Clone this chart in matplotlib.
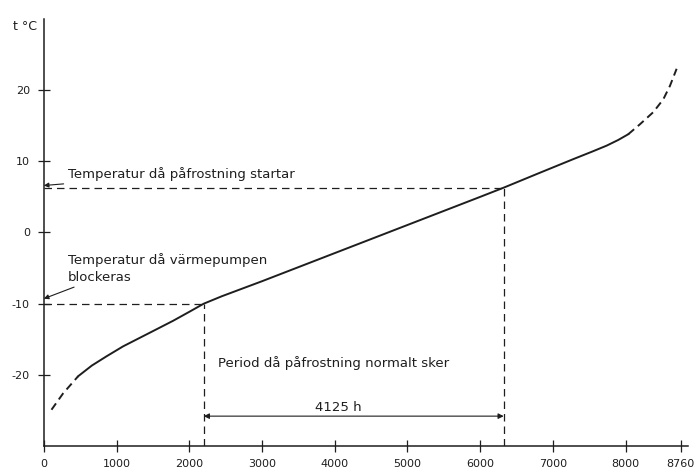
import matplotlib
matplotlib.use('Agg')
import matplotlib.pyplot as plt
import numpy as np

# duration curve of outdoor temperature over one year (hours)
hours_low = [106, 266, 472]
temp_low = [-24.9, -22.6, -20.2]
hours_mid = [472, 660, 862, 1090, 1320, 1550, 1779, 2000, 2200, 2450, 3000,
             4000, 5000, 6000, 6325, 6800, 7280, 7550, 7740, 7900, 8037]
temp_mid = [-20.2, -18.7, -17.4, -16.0, -14.8, -13.6, -12.4, -11.15, -10.0,
            -8.95, -6.85, -2.9, 1.05, 5.0, 6.3, 8.3, 10.3, 11.4, 12.2, 13.0, 13.8]
hours_high = [8037, 8198, 8381, 8519, 8611, 8703]
temp_high = [13.8, 15.2, 16.9, 18.7, 20.6, 23.0]

block_temp = -10
frost_temp = 6.3
frost_start = 2200
frost_hours = 4125

x_ticks = [0, 1000, 2000, 3000, 4000, 5000, 6000, 7000, 8000, 8760]
y_ticks = [-20, -10, 0, 10, 20]

ink = '#1e1e1e'
plt.rcParams['font.family'] = 'DejaVu Sans'

fig = plt.figure(figsize=(6.95, 4.74), dpi=100)
ax = fig.add_axes([0.063, 0.059, 0.927, 0.901])

ax.plot(hours_low, temp_low, color=ink, lw=1.4, ls=(0, (4, 2.5)))
ax.plot(hours_mid, temp_mid, color=ink, lw=1.4)
ax.plot(hours_high, temp_high, color=ink, lw=1.4, ls=(0, (4, 2.5)))

frost_end = frost_start + frost_hours
dash = (0, (6, 4))
ax.plot([0, frost_start], [block_temp, block_temp], color=ink, lw=0.9, ls=dash)
ax.plot([frost_start, frost_start], [-30, block_temp], color=ink, lw=0.9, ls=dash)
ax.plot([0, frost_end], [frost_temp, frost_temp], color=ink, lw=0.9, ls=dash)
ax.plot([frost_end, frost_end], [-30, frost_temp], color=ink, lw=0.9, ls=dash)

ax.annotate('', xy=(frost_start, -25.8), xytext=(frost_end, -25.8),
            arrowprops=dict(arrowstyle='<|-|>', color=ink, lw=0.8,
                            mutation_scale=8, shrinkA=0, shrinkB=0))
ax.text(4050, -24.6, '4125 h', fontsize=9.5, color=ink, ha='center', va='center')
ax.text(2390, -18.3, 'Period då påfrostning normalt sker', fontsize=9.5,
        color=ink, va='center')

ax.annotate('Temperatur då påfrostning startar', xy=(0, frost_temp + 0.3),
            xytext=(330, 8.2), fontsize=9.5, color=ink, va='center',
            arrowprops=dict(arrowstyle='-|>', color=ink, lw=0.8,
                            mutation_scale=7, shrinkA=1, shrinkB=0))
ax.text(330, -3.8, 'Temperatur då värmepumpen', fontsize=9.5, color=ink, va='center')
ax.annotate('blockeras', xy=(0, block_temp + 0.7), xytext=(330, -6.3),
            fontsize=9.5, color=ink, va='center',
            arrowprops=dict(arrowstyle='-|>', color=ink, lw=0.8,
                            mutation_scale=7, shrinkA=1, shrinkB=0))

ax.set_xlim(0, 8860)
ax.set_ylim(-30, 30)
ax.set_xticks(x_ticks)
ax.set_yticks(y_ticks)
ax.set_xticklabels([str(v) for v in x_ticks])
ax.set_yticklabels([str(v) for v in y_ticks])
ax.tick_params(direction='inout', length=8, width=0.9, colors=ink,
               labelsize=8, pad=5)
ax.tick_params(axis='y', pad=6)
for side in ['top', 'right']:
    ax.spines[side].set_visible(False)
for side in ['left', 'bottom']:
    ax.spines[side].set_color(ink)
    ax.spines[side].set_linewidth(1.1)

fig.text(0.018, 0.945, 't °C', fontsize=9, color=ink, va='center')

fig.savefig('out.png', dpi=100, facecolor='white')
